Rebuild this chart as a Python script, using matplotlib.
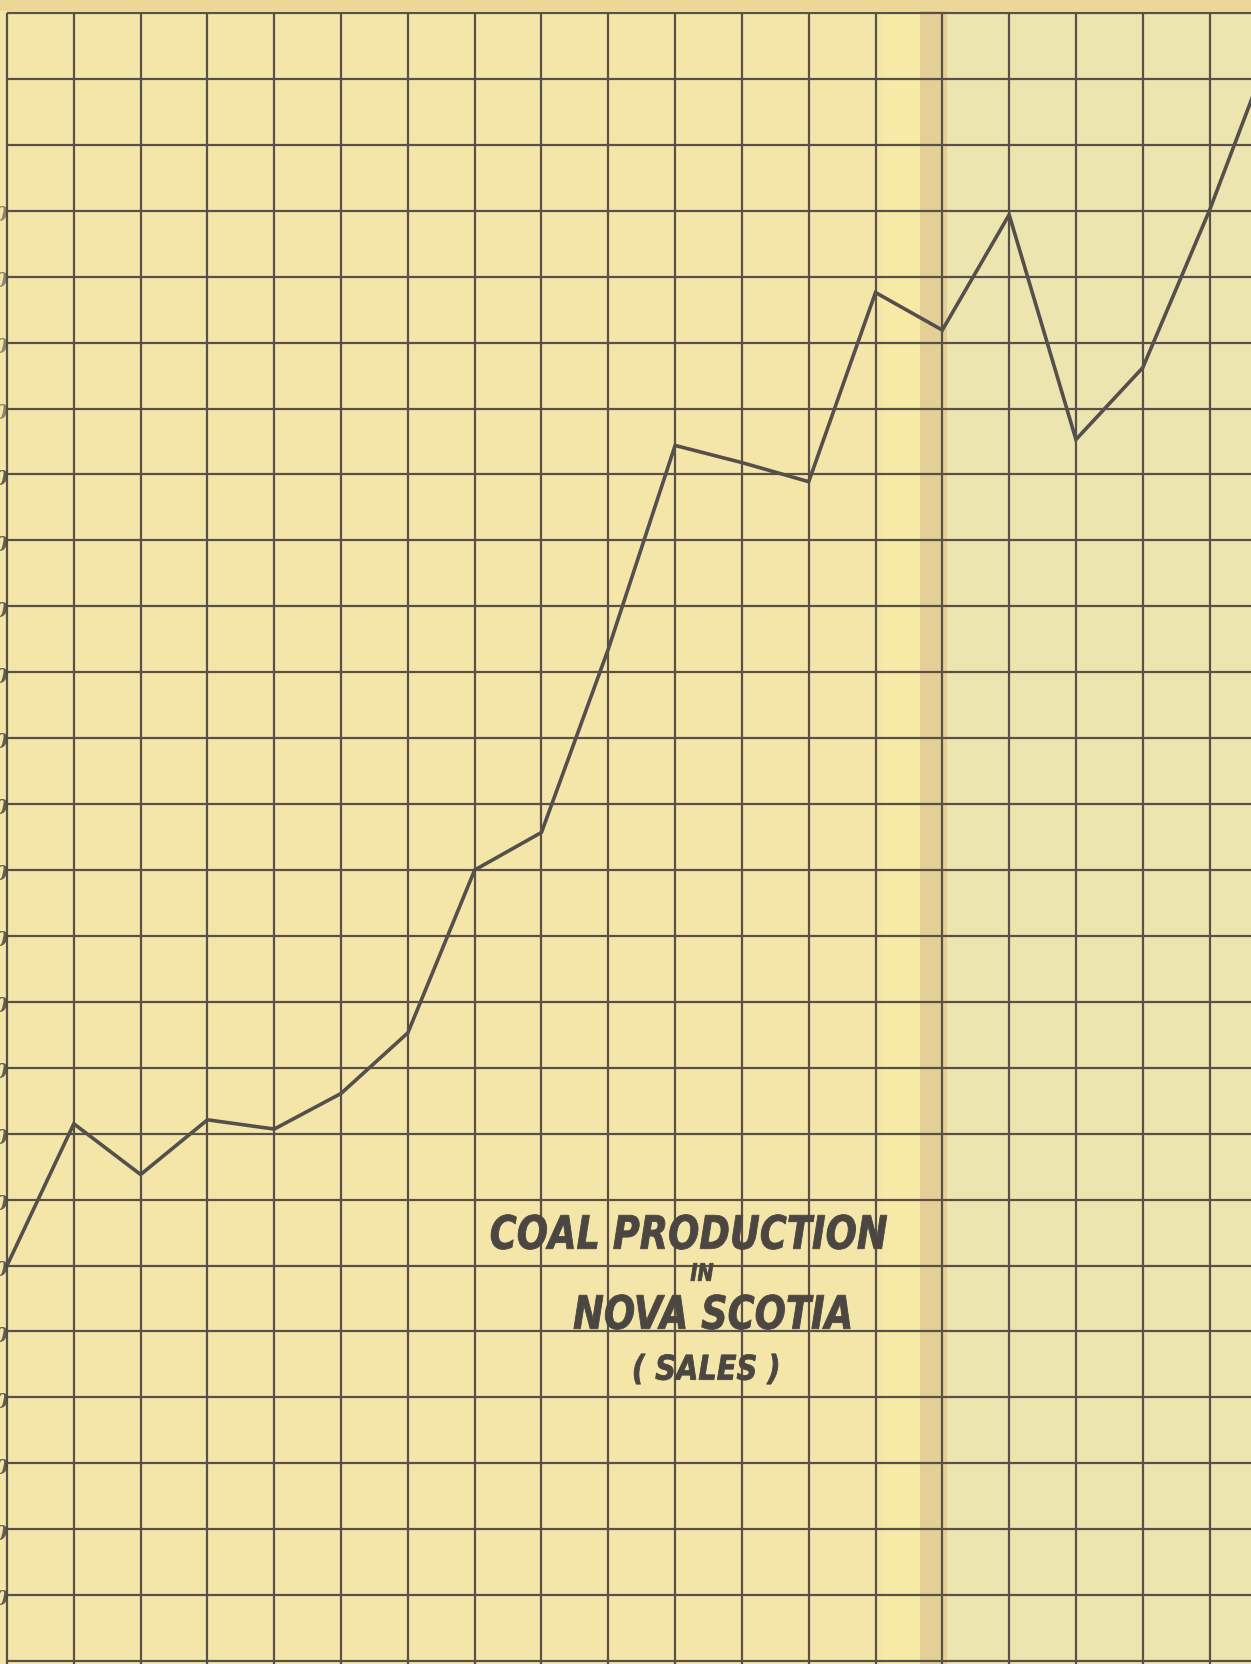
import matplotlib.pyplot as plt
from matplotlib.patches import Rectangle, PathPatch
from matplotlib.textpath import TextPath
from matplotlib.font_manager import FontProperties
from matplotlib.transforms import Affine2D, IdentityTransform

paper_colour = "#f3e6a8"
right_page_colour = "#ece5b0"
fold_light = "#f7e9a6"
fold_dark = "#e4d097"
top_strip_colour = "#ecd796"
grid_colour = "#5a5048"
line_colour = "#55504b"
ink_colour = "#4b4642"

# one column per year; sales in thousands of tons, 200 per square of the grid
cols = list(range(20))
sales = [1200, 1630, 1476, 1642, 1614, 1722, 1906, 2400, 2514, 3070,
         3688, 3636, 3578, 4152, 4038, 4388, 3706, 3924, 4402, 4936]
grid_values = list(range(0, 5001, 200))
label_values = list(range(200, 4401, 200))   # the cut-off scale on the left edge

W, H = 1251, 1665
fig = plt.figure(figsize=(W / 100, H / 100), dpi=100)
fig.patch.set_facecolor(paper_colour)


# paper: left page, page fold and right page
def paper(x0, x1, colour, y0=0, y1=H):
    fig.add_artist(Rectangle((x0 / W, 1 - y1 / H), (x1 - x0) / W, (y1 - y0) / H,
                             transform=fig.transFigure, facecolor=colour,
                             edgecolor='none', zorder=-2))


paper(947, W, right_page_colour)
paper(883, 920, fold_light)
paper(920, 947, fold_dark)
paper(0, W, top_strip_colour, 0, 12)

ax = fig.add_axes([0, 0, 1, 1])
ax.set_facecolor('none')
ax.set_xlim(-0.105, 18.62)
ax.set_ylim(-9, 5042.5)
ax.axis('off')

# the ruled squares
x_end = 18.62
ax.vlines(range(0, 19), -9, grid_values[-1], color=grid_colour, lw=1.6, zorder=1)
ax.hlines(grid_values, 0, x_end, color=grid_colour, lw=1.6, zorder=1)

# the sales line
ax.plot(cols, sales, color=line_colour, lw=2.6, solid_joinstyle='miter', zorder=3)

# scale figures, cut by the edge of the page
for v in label_values:
    y = ax.transData.transform((0, v))[1] / H
    fig.text(8.5 / W, y - 0.002, str(v), ha='right', va='center', fontsize=15,
             family='DejaVu Serif', weight='bold', style='italic',
             color=ink_colour, alpha=0.85 if v < 3700 else 0.6)

# hand lettered title: narrow, slanted capitals
title_prop = FontProperties(family='DejaVu Sans', weight='bold', style='italic')


def lettering(s, cx, cy, size, squeeze=0.8):
    tp = TextPath((0, 0), s, size=size, prop=title_prop)
    ext = tp.get_extents()
    tr = (Affine2D()
          .translate(-(ext.x0 + ext.x1) / 2, -(ext.y0 + ext.y1) / 2)
          .scale(squeeze, 1.0)
          .translate(cx, H - cy))
    fig.add_artist(PathPatch(tp, transform=tr + IdentityTransform(),
                             facecolor=ink_colour, edgecolor=ink_colour,
                             lw=0.6, zorder=5))


lettering("COAL PRODUCTION", 689, 1233, 46)
lettering("IN", 702, 1273, 24)
lettering("NOVA SCOTIA", 712, 1313, 46)
lettering("( SALES )", 706, 1370, 34, squeeze=0.85)

fig.savefig("out.png", dpi=100, facecolor=fig.get_facecolor())
